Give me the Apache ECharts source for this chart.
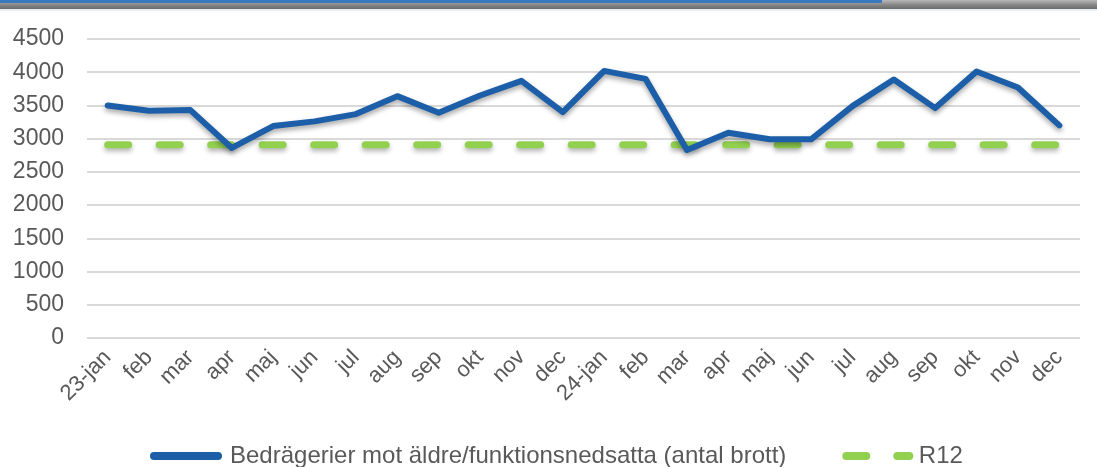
<!DOCTYPE html>
<html><head><meta charset="utf-8">
<script src="https://cdn.jsdelivr.net/npm/echarts@6/dist/echarts.min.js"></script>
<style>html,body{margin:0;padding:0;background:#fff}#c{width:1097px;height:467px}</style>
</head><body><div id="c"></div>
<script>
const categories = ['23-jan','feb','mar','apr','maj','jun','jul','aug','sep','okt','nov','dec',
  '24-jan','feb','mar','apr','maj','jun','jul','aug','sep','okt','nov','dec'];
const bedragerier = [3500,3420,3430,2860,3190,3260,3370,3640,3390,3650,3870,3400,
  4020,3900,2830,3090,2990,2990,3490,3890,3460,4010,3770,3200];
const r12 = [2910,2910,2910,2910,2910,2910,2910,2910,2910,2910,2910,2910,
  2910,2910,2910,2910,2910,2910,2910,2910,2910,2910,2910,2910];
const seriesNames = ['Bedrägerier mot äldre/funktionsnedsatta (antal brott)','R12'];
const yTicks = {min:0,max:4500,interval:500};

const chart = echarts.init(document.getElementById('c'),null,{renderer:'canvas'});
const font = 'Liberation Sans, Arial, sans-serif';
chart.setOption({
  animation:false,
  backgroundColor:'#fff',
  graphic:[
    {type:'rect',shape:{x:0,y:0,width:1097,height:9},style:{fill:new echarts.graphic.LinearGradient(0,0,0,1,[{offset:0,color:'#b8b8b8'},{offset:0.5,color:'#8a8a8a'},{offset:1,color:'#6a6a6a'}])},z:10},
    {type:'rect',shape:{x:0,y:0,width:882,height:3},style:{fill:'#3a78bf'},z:11},
    {type:'rect',shape:{x:0,y:9,width:1097,height:2},style:{fill:'#e8eef4'},z:10}
  ],
  grid:{left:87,right:17,top:39,bottom:129,containLabel:false},
  legend:{
    top:439,left:145,
    itemWidth:72,itemHeight:8,itemGap:56,
    textStyle:{fontFamily:font,fontSize:24,color:'#595959'},
    data:[
      {name:seriesNames[0],icon:'path://M4,0H68A4,4 0 0 1 68,8H4A4,4 0 0 1 4,0Z',
        itemStyle:{color:'#1c5fa8'},textStyle:{padding:[0,0,0,3]}},
      {name:seriesNames[1],icon:'path://M4,0H24A4,4 0 0 1 24,8H4A4,4 0 0 1 4,0ZM55,0H67A4,4 0 0 1 67,8H55A4,4 0 0 1 55,0Z',
        itemStyle:{color:'#92d050'}}
    ]
  },
  xAxis:{
    type:'category',data:categories,boundaryGap:true,
    axisLine:{show:false},axisTick:{show:false},
    axisLabel:{interval:0,rotate:45,fontFamily:font,fontSize:22,color:'#595959',margin:16}
  },
  yAxis:{
    type:'value',min:yTicks.min,max:yTicks.max,interval:yTicks.interval,
    axisLine:{show:false},axisTick:{show:false},
    axisLabel:{fontFamily:font,fontSize:23,color:'#595959',margin:23,formatter:v=>String(v)},
    splitLine:{lineStyle:{color:'#d9d9d9',width:2}}
  },
  series:[
    {name:seriesNames[0],type:'line',data:bedragerier,symbol:'none',z:3,
      lineStyle:{color:'#1c5fa8',width:6,join:'round',cap:'round',shadowColor:'rgba(0,0,0,0.35)',shadowBlur:5,shadowOffsetY:3},
      itemStyle:{color:'#1c5fa8'}},
    {name:seriesNames[1],type:'line',data:r12,symbol:'none',z:2,
      lineStyle:{color:'#92d050',width:7,type:[21,30.5],dashOffset:0,cap:'round',shadowColor:'rgba(0,0,0,0.3)',shadowBlur:5,shadowOffsetY:3},
      itemStyle:{color:'#92d050'}}
  ]
});
</script></body></html>
